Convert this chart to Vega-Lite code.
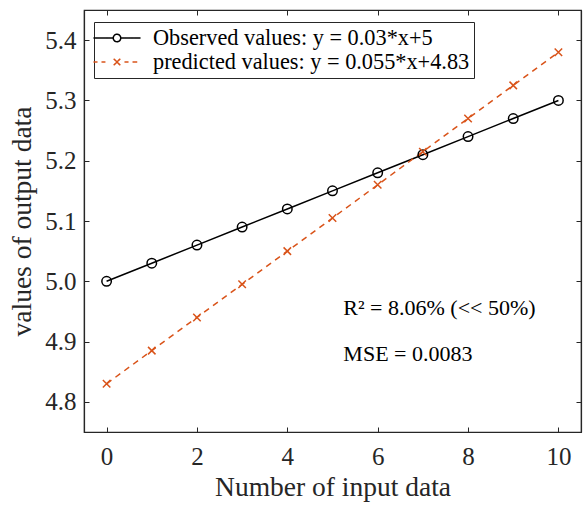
{
  "$schema": "https://vega.github.io/schema/vega-lite/v6.json",
  "width": 497,
  "height": 422,
  "autosize": {"type": "none"},
  "padding": {"left": 84, "top": 10, "right": 4, "bottom": 75},
  "background": "white",
  "config": {
    "font": "Liberation Serif",
    "view": {"stroke": "#262626", "strokeWidth": 1.2},
    "axis": {
      "grid": false,
      "domainColor": "#262626",
      "domainWidth": 1.2,
      "tickColor": "#262626",
      "tickWidth": 1,
      "tickSize": -5,
      "labelFont": "Liberation Serif",
      "labelFontSize": 25,
      "labelColor": "#262626",
      "titleFont": "Liberation Serif",
      "titleFontSize": 27.5,
      "titleFontWeight": "normal",
      "titleColor": "#262626"
    }
  },
  "datasets": {
    "series": [
      {"x": 0, "y": 5.0, "series": "Observed values: y = 0.03*x+5"},
      {"x": 1, "y": 5.03, "series": "Observed values: y = 0.03*x+5"},
      {"x": 2, "y": 5.06, "series": "Observed values: y = 0.03*x+5"},
      {"x": 3, "y": 5.09, "series": "Observed values: y = 0.03*x+5"},
      {"x": 4, "y": 5.12, "series": "Observed values: y = 0.03*x+5"},
      {"x": 5, "y": 5.15, "series": "Observed values: y = 0.03*x+5"},
      {"x": 6, "y": 5.18, "series": "Observed values: y = 0.03*x+5"},
      {"x": 7, "y": 5.21, "series": "Observed values: y = 0.03*x+5"},
      {"x": 8, "y": 5.24, "series": "Observed values: y = 0.03*x+5"},
      {"x": 9, "y": 5.27, "series": "Observed values: y = 0.03*x+5"},
      {"x": 10, "y": 5.3, "series": "Observed values: y = 0.03*x+5"},
      {"x": 0, "y": 4.83, "series": "predicted values: y = 0.055*x+4.83"},
      {"x": 1, "y": 4.885, "series": "predicted values: y = 0.055*x+4.83"},
      {"x": 2, "y": 4.94, "series": "predicted values: y = 0.055*x+4.83"},
      {"x": 3, "y": 4.995, "series": "predicted values: y = 0.055*x+4.83"},
      {"x": 4, "y": 5.05, "series": "predicted values: y = 0.055*x+4.83"},
      {"x": 5, "y": 5.105, "series": "predicted values: y = 0.055*x+4.83"},
      {"x": 6, "y": 5.16, "series": "predicted values: y = 0.055*x+4.83"},
      {"x": 7, "y": 5.215, "series": "predicted values: y = 0.055*x+4.83"},
      {"x": 8, "y": 5.27, "series": "predicted values: y = 0.055*x+4.83"},
      {"x": 9, "y": 5.325, "series": "predicted values: y = 0.055*x+4.83"},
      {"x": 10, "y": 5.38, "series": "predicted values: y = 0.055*x+4.83"}
    ],
    "notes": [
      {"x": 5.24, "y": 4.9434, "label": "R² = 8.06% (<< 50%)"},
      {"x": 5.24, "y": 4.867, "label": "MSE = 0.0083"}
    ]
  },
  "layer": [
    {
      "data": {"name": "series"},
      "transform": [{"filter": "datum.series === 'Observed values: y = 0.03*x+5'"}],
      "mark": {"type": "line", "strokeWidth": 1.5},
      "encoding": {
        "x": {"field": "x", "type": "quantitative", "scale": {"domain": [-0.5, 10.5], "nice": false, "zero": false},
              "axis": {"orient": "bottom", "values": [0, 2, 4, 6, 8, 10], "title": "Number of input data", "labelPadding": 17, "titlePadding": 4}},
        "y": {"field": "y", "type": "quantitative", "scale": {"domain": [4.75, 5.45], "nice": false, "zero": false},
              "axis": {"orient": "left", "values": [4.8, 4.9, 5.0, 5.1, 5.2, 5.3, 5.4], "title": "values of output data", "labelPadding": 13, "titlePadding": 8}},
        "color": {
          "field": "series", "type": "nominal",
          "scale": {"domain": ["Observed values: y = 0.03*x+5", "predicted values: y = 0.055*x+4.83"], "range": ["#000000", "#D95319"]},
          "legend": {
            "title": null,
            "orient": "none",
            "legendX": 10,
            "legendY": 12,
            "direction": "vertical",
            "strokeColor": "#262626",
            "fillColor": "white",
            "padding": 4,
            "labelFont": "Liberation Serif",
            "labelFontSize": 22.3,
            "labelColor": "#000000",
            "labelLimit": 500,
            "labelOffset": 24,
            "rowPadding": 0,
            "symbolSize": 484,
            "symbolOffset": 7,
            "symbolStrokeWidth": 1.5,
            "symbolFillColor": "transparent",
            "encode": {
              "symbols": {
                "update": {
                  "shape": {"signal": "datum.index === 0 ? 'M-2.14,0L-0.34,0M0.34,0L2.14,0M-0.34,0A0.34,0.34,0,1,1,0.34,0A0.34,0.34,0,1,1,-0.34,0' : 'M-2.14,0L-1.77,0M-1.41,0L-1.05,0M0.68,0L1.05,0M1.41,0L1.84,0M-0.3,-0.3L0.3,0.3M-0.3,0.3L0.3,-0.3'"},
                  "fill": {"value": "transparent"},
                  "strokeDash": {"value": [1, 0]}
                }
              }
            }
          }
        }
      }
    },
    {
      "data": {"name": "series"},
      "transform": [{"filter": "datum.series === 'predicted values: y = 0.055*x+4.83'"}],
      "mark": {"type": "line", "strokeWidth": 1.5, "strokeDash": [6, 5]},
      "encoding": {
        "x": {"field": "x", "type": "quantitative", "axis": null},
        "y": {"field": "y", "type": "quantitative", "axis": null},
        "color": {"field": "series", "type": "nominal"}
      }
    },
    {
      "data": {"name": "series"},
      "transform": [{"filter": "datum.series === 'Observed values: y = 0.03*x+5'"}],
      "mark": {"type": "point", "shape": "circle", "filled": false, "strokeWidth": 1.5, "size": 90, "color": "#000000", "opacity": 1},
      "encoding": {
        "x": {"field": "x", "type": "quantitative", "axis": null},
        "y": {"field": "y", "type": "quantitative", "axis": null}
      }
    },
    {
      "data": {"name": "series"},
      "transform": [{"filter": "datum.series === 'predicted values: y = 0.055*x+4.83'"}],
      "mark": {"type": "point", "shape": "M-1,-1L1,1M-1,1L1,-1", "filled": false, "strokeWidth": 1.5, "size": 56, "color": "#D95319", "opacity": 1},
      "encoding": {
        "x": {"field": "x", "type": "quantitative", "axis": null},
        "y": {"field": "y", "type": "quantitative", "axis": null}
      }
    },
    {
      "data": {"name": "series"},
      "mark": {"type": "point", "opacity": 0},
      "encoding": {
        "x": {"field": "x", "type": "quantitative",
              "axis": {"orient": "top", "values": [0, 2, 4, 6, 8, 10], "labels": false, "title": null}},
        "y": {"field": "y", "type": "quantitative",
              "axis": {"orient": "right", "values": [4.8, 4.9, 5.0, 5.1, 5.2, 5.3, 5.4], "labels": false, "title": null}}
      }
    },
    {
      "data": {"name": "notes"},
      "mark": {"type": "text", "align": "left", "baseline": "alphabetic", "font": "Liberation Serif", "fontSize": 22, "color": "#000000"},
      "encoding": {
        "x": {"field": "x", "type": "quantitative", "axis": null},
        "y": {"field": "y", "type": "quantitative", "axis": null},
        "text": {"field": "label"}
      }
    }
  ],
  "resolve": {"axis": {"x": "independent", "y": "independent"}}
}
